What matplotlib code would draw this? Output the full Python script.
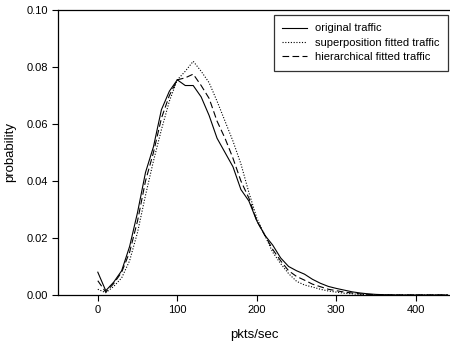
import matplotlib.pyplot as plt

plt.rcParams['font.family'] = ['Liberation Sans', 'DejaVu Sans']

# pkts/sec bins
rate = [0, 10, 20, 30, 40, 50, 60, 70, 80, 90, 100, 110, 120, 130, 140, 150,
        160, 170, 180, 190, 200, 210, 220, 230, 240, 250, 260, 270, 280, 290,
        300, 310, 320, 330, 340, 350, 360, 380, 400, 420, 440]

original = [0.008, 0.0015, 0.0045, 0.0085, 0.017, 0.029, 0.043, 0.052, 0.065, 0.0715,
            0.0755, 0.0735, 0.0735, 0.0695, 0.063, 0.055, 0.050, 0.045, 0.037, 0.033,
            0.026, 0.021, 0.0175, 0.013, 0.010, 0.0085, 0.0073, 0.0055, 0.0041, 0.003,
            0.0023, 0.0017, 0.0011, 0.0007, 0.0004, 0.0002, 0.0001, 0.0, 0.0, 0.0, 0.0]

superposition = [0.002, 0.0008, 0.003, 0.006, 0.012, 0.022, 0.035, 0.047, 0.058, 0.068,
                 0.0755, 0.0785, 0.082, 0.0785, 0.0745, 0.068, 0.061, 0.054, 0.046, 0.036,
                 0.027, 0.021, 0.015, 0.011, 0.0075, 0.0048, 0.0035, 0.0028, 0.002, 0.0014,
                 0.001, 0.0006, 0.0004, 0.0002, 0.0001, 0.0, 0.0, 0.0, 0.0, 0.0, 0.0]

hierarchical = [0.005, 0.001, 0.004, 0.008, 0.015, 0.026, 0.040, 0.050, 0.062, 0.070,
                0.0755, 0.0762, 0.0775, 0.0735, 0.069, 0.061, 0.055, 0.048, 0.040, 0.034,
                0.026, 0.021, 0.016, 0.012, 0.0085, 0.0065, 0.0052, 0.0038, 0.0029, 0.002,
                0.0015, 0.001, 0.0007, 0.0004, 0.0002, 0.0001, 0.0, 0.0, 0.0, 0.0, 0.0]

fig = plt.figure(figsize=(4.5, 3.45), dpi=100)
ax = fig.add_axes([0.129, 0.145, 0.871, 0.826])

ax.plot(rate, original, color='black', lw=0.8, ls='-', label='original traffic')
ax.plot(rate, superposition, color='black', lw=0.8, ls=(0, (1, 1.5)),
        label='superposition fitted traffic')
ax.plot(rate, hierarchical, color='black', lw=0.8, ls=(0, (6, 3)),
        label='hierarchical fitted traffic')

ax.set_xlim(-50, 443)
ax.set_ylim(0, 0.10)
ax.set_xticks([0, 100, 200, 300, 400])
ax.set_yticks([0.00, 0.02, 0.04, 0.06, 0.08, 0.10])
ax.set_yticklabels(['0.00', '0.02', '0.04', '0.06', '0.08', '0.10'])
ax.tick_params(direction='out', length=4, width=0.8, labelsize=8, colors='black')
ax.spines['right'].set_visible(False)
for s in ['left', 'bottom', 'top']:
    ax.spines[s].set_linewidth(0.9)

ax.set_xlabel('pkts/sec', fontsize=9.5, labelpad=10)
ax.set_ylabel('probability', fontsize=9.5, labelpad=7)

leg = ax.legend(loc='upper right', bbox_to_anchor=(0.994, 0.982), fontsize=8,
                frameon=True, fancybox=False, handlelength=2.25, handletextpad=0.7,
                borderpad=0.75, labelspacing=0.4, borderaxespad=0)
leg.get_frame().set_edgecolor('black')
leg.get_frame().set_linewidth(0.9)

fig.savefig('out.png', dpi=100)
